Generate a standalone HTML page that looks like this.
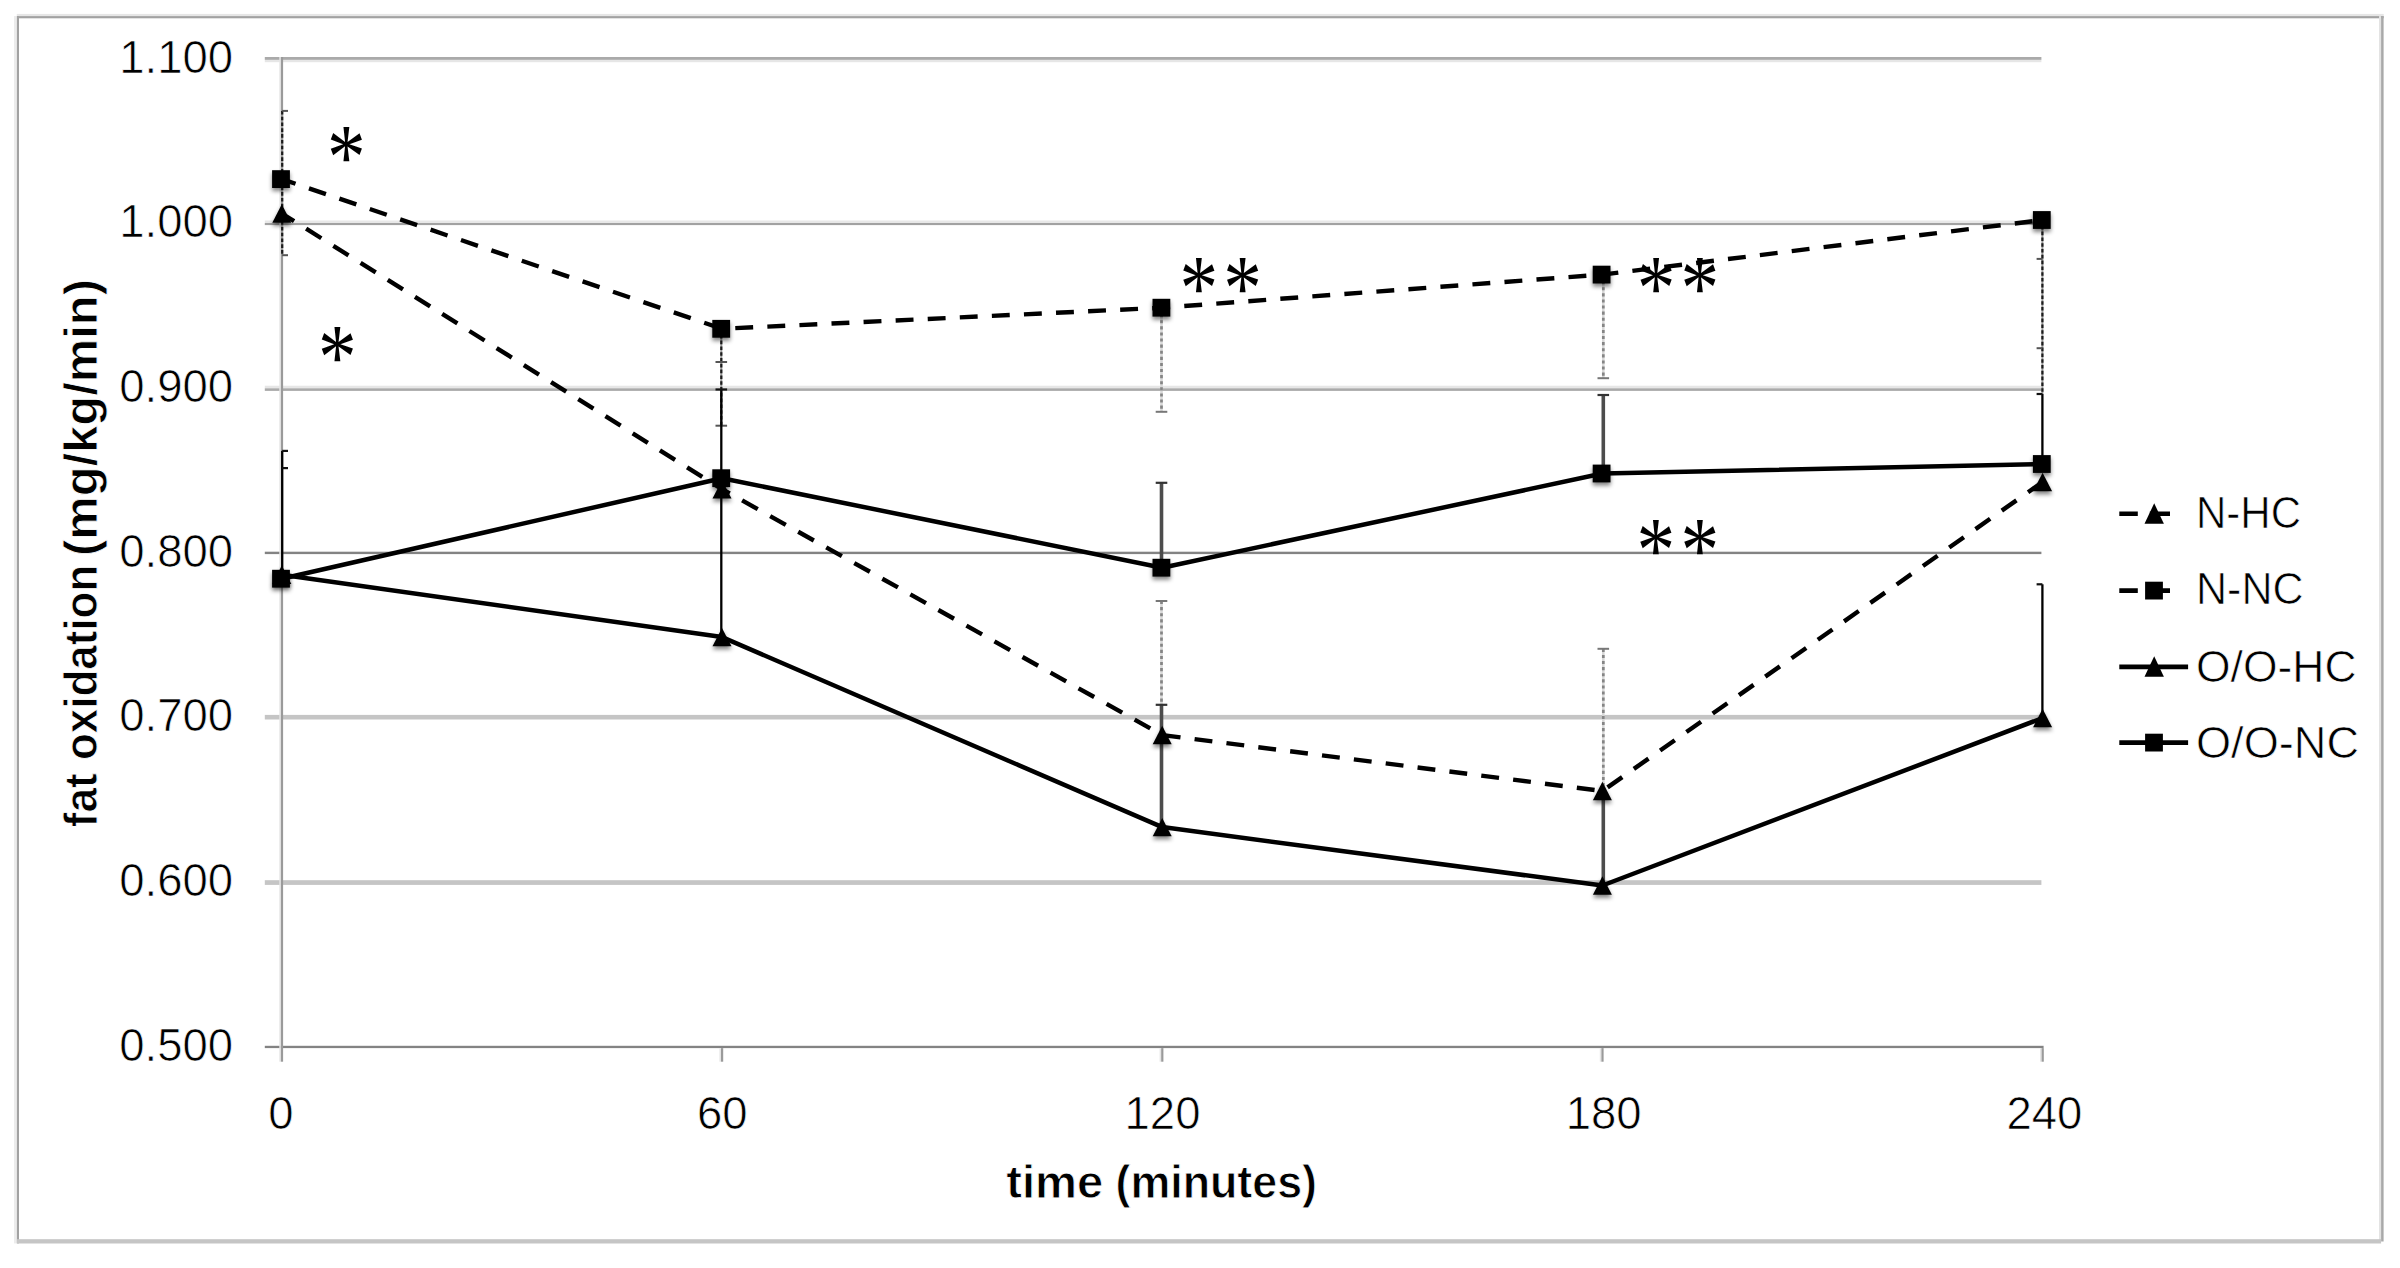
<!DOCTYPE html>
<html lang="en"><head><meta charset="utf-8"><title>fat oxidation over time</title>
<style>html,body{margin:0;padding:0;background:#fff}body{width:2400px;height:1268px;overflow:hidden}svg{display:block}
text{font-family:"Liberation Sans", Arial, sans-serif;fill:#000}
.tk{font-size:45.5px;stroke:#fff;stroke-width:0.7}
.ttl{font-size:45.6px;font-weight:bold;stroke:#fff;stroke-width:0.8}
.lg{font-size:44.0px;stroke:#fff;stroke-width:0.7}
.ast{font-family:"Liberation Serif","DejaVu Serif",serif;font-size:84px;fill:#000}
</style></head><body>
<svg width="2400" height="1268" viewBox="0 0 2400 1268">
<defs><filter id="sh" x="-60%" y="-60%" width="220%" height="220%"><feGaussianBlur in="SourceAlpha" stdDeviation="2.3"/><feOffset dx="0.3" dy="2.8" result="b"/><feComponentTransfer><feFuncA type="linear" slope="0.5"/></feComponentTransfer><feMerge><feMergeNode/><feMergeNode in="SourceGraphic"/></feMerge></filter></defs>
<rect x="0" y="0" width="2400" height="1268" fill="#fff"/>
<g id="frame">
<rect x="16.80" y="13.90" width="2366.90" height="2.20" fill="#e6e6e6"/>
<rect x="16.80" y="16.10" width="2366.90" height="2.20" fill="#a2a2a2"/>
<rect x="14.00" y="16.10" width="2.90" height="1227.30" fill="#ececec"/>
<rect x="16.90" y="16.10" width="2.10" height="1227.30" fill="#a2a2a2"/>
<rect x="2379.00" y="16.10" width="2.10" height="1224.90" fill="#e3e3e3"/>
<rect x="2381.10" y="16.10" width="2.50" height="1225.40" fill="#a9a9a9"/>
<rect x="16.90" y="1239.20" width="2364.20" height="4.30" fill="#c5c5c5"/>
</g>
<g id="grid">
<rect x="264.80" y="57.00" width="1776.60" height="2.90" fill="#aaaaaa"/>
<rect x="264.80" y="59.90" width="1776.60" height="2.30" fill="#e6e6e6"/>
<rect x="264.80" y="220.50" width="1776.60" height="2.50" fill="#e8e8e8"/>
<rect x="264.80" y="223.00" width="1776.60" height="2.10" fill="#a2a2a2"/>
<rect x="264.80" y="385.70" width="1776.60" height="2.60" fill="#e6e6e6"/>
<rect x="264.80" y="388.30" width="1776.60" height="2.60" fill="#aaaaaa"/>
<rect x="264.80" y="551.70" width="1776.60" height="2.40" fill="#838383"/>
<rect x="264.80" y="714.90" width="1776.60" height="4.60" fill="#c5c5c5"/>
<rect x="264.80" y="880.20" width="1776.60" height="4.70" fill="#c5c5c5"/>
</g>
<rect x="264.80" y="1045.80" width="1778.80" height="2.30" fill="#838383"/>
<g id="axes">
<rect x="279.30" y="57.00" width="1.60" height="1004.70" fill="#e6e6e6"/>
<rect x="280.90" y="57.00" width="2.20" height="1004.70" fill="#9a9a9a"/>
<rect x="719.40" y="1048.10" width="1.60" height="13.60" fill="#e6e6e6"/>
<rect x="721.00" y="1048.10" width="2.20" height="13.60" fill="#9a9a9a"/>
<rect x="1159.60" y="1048.10" width="1.60" height="13.60" fill="#e6e6e6"/>
<rect x="1161.20" y="1048.10" width="2.20" height="13.60" fill="#9a9a9a"/>
<rect x="1599.80" y="1048.10" width="1.60" height="13.60" fill="#e6e6e6"/>
<rect x="1601.40" y="1048.10" width="2.20" height="13.60" fill="#9a9a9a"/>
<rect x="2040.00" y="1048.10" width="1.60" height="13.60" fill="#e6e6e6"/>
<rect x="2041.60" y="1048.10" width="2.20" height="13.60" fill="#9a9a9a"/>
</g>
<g id="ylabels">
<text class="tk" x="233.1" y="72.7" text-anchor="end">1.100</text>
<text class="tk" x="233.1" y="237.4" text-anchor="end">1.000</text>
<text class="tk" x="233.1" y="402.0" text-anchor="end">0.900</text>
<text class="tk" x="233.1" y="566.7" text-anchor="end">0.800</text>
<text class="tk" x="233.1" y="731.4" text-anchor="end">0.700</text>
<text class="tk" x="233.1" y="896.0" text-anchor="end">0.600</text>
<text class="tk" x="233.1" y="1060.7" text-anchor="end">0.500</text>
</g><g id="xlabels">
<text class="tk" x="281.0" y="1128.8" text-anchor="middle">0</text>
<text class="tk" x="722.3" y="1128.8" text-anchor="middle">60</text>
<text class="tk" x="1162.5" y="1128.8" text-anchor="middle">120</text>
<text class="tk" x="1603.6" y="1128.8" text-anchor="middle">180</text>
<text class="tk" x="2044.4" y="1128.8" text-anchor="middle">240</text>
</g>
<text id="xtitle" class="ttl" y="1197.9"><tspan x="1006.3" textLength="97.0" lengthAdjust="spacingAndGlyphs">time</tspan><tspan> </tspan><tspan x="1115.5" textLength="201.5" lengthAdjust="spacingAndGlyphs">(minutes)</tspan></text>
<text id="ytitle" class="ttl" transform="translate(96.7 0) rotate(-90)" y="0"><tspan x="-827.3" textLength="54.0" lengthAdjust="spacingAndGlyphs">fat</tspan><tspan> </tspan><tspan x="-760.0" textLength="195.3" lengthAdjust="spacingAndGlyphs">oxidation</tspan><tspan> </tspan><tspan x="-556.0" textLength="277.0" lengthAdjust="spacingAndGlyphs">(mg/kg/min)</tspan></text>
<g id="errorbars">
<line x1="282.20" y1="110.90" x2="282.20" y2="255.20" stroke="#9a9a9a" stroke-width="2.0"/>
<line x1="282.20" y1="110.90" x2="282.20" y2="255.20" stroke="#1c1c1c" stroke-width="2.2" stroke-dasharray="3.6 2.2"/>
<line x1="282.20" y1="110.90" x2="288.00" y2="110.90" stroke="#555" stroke-width="2.0"/>
<line x1="282.20" y1="255.20" x2="288.00" y2="255.20" stroke="#555" stroke-width="2.0"/>
<line x1="282.20" y1="450.90" x2="282.20" y2="578.00" stroke="#000" stroke-width="2.3"/>
<line x1="282.20" y1="450.90" x2="288.00" y2="450.90" stroke="#111" stroke-width="2.2"/>
<line x1="282.20" y1="468.10" x2="288.00" y2="468.10" stroke="#111" stroke-width="2.2"/>
<line x1="721.30" y1="329.00" x2="721.30" y2="426.00" stroke="#9a9a9a" stroke-width="2.0"/>
<line x1="721.30" y1="329.00" x2="721.30" y2="426.00" stroke="#1c1c1c" stroke-width="2.2" stroke-dasharray="3.6 2.2"/>
<line x1="715.50" y1="362.00" x2="727.10" y2="362.00" stroke="#555" stroke-width="2.0"/>
<line x1="715.50" y1="425.70" x2="727.10" y2="425.70" stroke="#555" stroke-width="2.0"/>
<line x1="721.30" y1="389.50" x2="721.30" y2="637.00" stroke="#000" stroke-width="2.3"/>
<line x1="715.50" y1="389.50" x2="727.10" y2="389.50" stroke="#111" stroke-width="2.2"/>
<line x1="1161.50" y1="308.00" x2="1161.50" y2="411.80" stroke="#d8d8d8" stroke-width="2.6"/>
<line x1="1161.50" y1="308.00" x2="1161.50" y2="411.80" stroke="#858585" stroke-width="2.7" stroke-dasharray="3.1 3"/>
<line x1="1155.70" y1="411.80" x2="1167.30" y2="411.80" stroke="#777" stroke-width="2.0"/>
<line x1="1161.50" y1="482.80" x2="1161.50" y2="568.00" stroke="#4c4c4c" stroke-width="3.6"/>
<line x1="1155.70" y1="482.80" x2="1167.30" y2="482.80" stroke="#333" stroke-width="2.2"/>
<line x1="1161.50" y1="601.00" x2="1161.50" y2="735.00" stroke="#d8d8d8" stroke-width="2.6"/>
<line x1="1161.50" y1="601.00" x2="1161.50" y2="735.00" stroke="#858585" stroke-width="2.7" stroke-dasharray="3.1 3"/>
<line x1="1155.70" y1="601.00" x2="1167.30" y2="601.00" stroke="#777" stroke-width="2.0"/>
<line x1="1161.50" y1="704.80" x2="1161.50" y2="827.00" stroke="#4c4c4c" stroke-width="3.6"/>
<line x1="1155.70" y1="704.80" x2="1167.30" y2="704.80" stroke="#333" stroke-width="2.2"/>
<line x1="1603.30" y1="275.00" x2="1603.30" y2="378.20" stroke="#d8d8d8" stroke-width="2.6"/>
<line x1="1603.30" y1="275.00" x2="1603.30" y2="378.20" stroke="#858585" stroke-width="2.7" stroke-dasharray="3.1 3"/>
<line x1="1597.50" y1="378.20" x2="1609.10" y2="378.20" stroke="#777" stroke-width="2.0"/>
<line x1="1603.30" y1="395.00" x2="1603.30" y2="473.00" stroke="#4c4c4c" stroke-width="3.6"/>
<line x1="1597.50" y1="395.00" x2="1609.10" y2="395.00" stroke="#333" stroke-width="2.2"/>
<line x1="1603.30" y1="648.80" x2="1603.30" y2="791.00" stroke="#d8d8d8" stroke-width="2.6"/>
<line x1="1603.30" y1="648.80" x2="1603.30" y2="791.00" stroke="#858585" stroke-width="2.7" stroke-dasharray="3.1 3"/>
<line x1="1597.50" y1="648.80" x2="1609.10" y2="648.80" stroke="#777" stroke-width="2.0"/>
<line x1="1603.30" y1="795.00" x2="1603.30" y2="885.00" stroke="#4c4c4c" stroke-width="3.6"/>
<line x1="2042.40" y1="220.00" x2="2042.40" y2="394.00" stroke="#9a9a9a" stroke-width="2.0"/>
<line x1="2042.40" y1="220.00" x2="2042.40" y2="394.00" stroke="#1c1c1c" stroke-width="2.2" stroke-dasharray="3.6 2.2"/>
<line x1="2036.60" y1="258.90" x2="2042.40" y2="258.90" stroke="#555" stroke-width="2.0"/>
<line x1="2036.60" y1="348.20" x2="2042.40" y2="348.20" stroke="#555" stroke-width="2.0"/>
<line x1="2042.40" y1="394.00" x2="2042.40" y2="464.00" stroke="#000" stroke-width="2.3"/>
<line x1="2036.60" y1="394.00" x2="2042.40" y2="394.00" stroke="#111" stroke-width="2.2"/>
<line x1="2042.40" y1="584.30" x2="2042.40" y2="718.00" stroke="#000" stroke-width="2.3"/>
<line x1="2036.60" y1="584.30" x2="2042.40" y2="584.30" stroke="#111" stroke-width="2.2"/>
</g>
<g id="series">
<polyline points="281.8,213.5 722.0,489.2 1162.2,735.0 1602.4,791.0 2042.6,482.0" fill="none" stroke="#000" stroke-width="4.4" stroke-linejoin="round" stroke-dasharray="17.9 14.21" stroke-dashoffset="3.4"/>
<polyline points="281.8,179.1 722.0,328.8 1162.2,307.7 1602.4,274.6 2042.6,220.0" fill="none" stroke="#000" stroke-width="4.4" stroke-linejoin="round" stroke-dasharray="17.9 14.21" stroke-dashoffset="3.4"/>
<polyline points="281.8,574.8 722.0,637.1 1162.2,827.1 1602.4,885.5 2042.6,718.0" fill="none" stroke="#000" stroke-width="4.5" stroke-linejoin="round"/>
<polyline points="281.8,578.7 722.0,478.2 1162.2,567.7 1602.4,473.5 2042.6,464.0" fill="none" stroke="#000" stroke-width="4.5" stroke-linejoin="round"/>
<polygon points="281.80,204.30 291.30,222.70 272.30,222.70" fill="#000" filter="url(#sh)"/>
<polygon points="722.00,480.00 731.50,498.40 712.50,498.40" fill="#000" filter="url(#sh)"/>
<polygon points="1162.20,725.80 1171.70,744.20 1152.70,744.20" fill="#000" filter="url(#sh)"/>
<polygon points="1602.40,781.80 1611.90,800.20 1592.90,800.20" fill="#000" filter="url(#sh)"/>
<polygon points="2042.60,472.80 2052.10,491.20 2033.10,491.20" fill="#000" filter="url(#sh)"/>
<rect x="272.10" y="170.20" width="17.8" height="17.8" fill="#000" filter="url(#sh)"/>
<rect x="712.30" y="319.90" width="17.8" height="17.8" fill="#000" filter="url(#sh)"/>
<rect x="1152.50" y="298.80" width="17.8" height="17.8" fill="#000" filter="url(#sh)"/>
<rect x="1592.70" y="265.70" width="17.8" height="17.8" fill="#000" filter="url(#sh)"/>
<rect x="2032.90" y="211.10" width="17.8" height="17.8" fill="#000" filter="url(#sh)"/>
<polygon points="281.80,565.60 291.30,584.00 272.30,584.00" fill="#000" filter="url(#sh)"/>
<polygon points="722.00,627.90 731.50,646.30 712.50,646.30" fill="#000" filter="url(#sh)"/>
<polygon points="1162.20,817.90 1171.70,836.30 1152.70,836.30" fill="#000" filter="url(#sh)"/>
<polygon points="1602.40,876.30 1611.90,894.70 1592.90,894.70" fill="#000" filter="url(#sh)"/>
<polygon points="2042.60,708.80 2052.10,727.20 2033.10,727.20" fill="#000" filter="url(#sh)"/>
<rect x="272.10" y="569.80" width="17.8" height="17.8" fill="#000" filter="url(#sh)"/>
<rect x="712.30" y="469.30" width="17.8" height="17.8" fill="#000" filter="url(#sh)"/>
<rect x="1152.50" y="558.80" width="17.8" height="17.8" fill="#000" filter="url(#sh)"/>
<rect x="1592.70" y="464.60" width="17.8" height="17.8" fill="#000" filter="url(#sh)"/>
<rect x="2032.90" y="455.10" width="17.8" height="17.8" fill="#000" filter="url(#sh)"/>
</g>
<g id="stars">
<text class="ast" transform="translate(346.4 143.5) scale(0.92 1.1)" x="0" y="40.5" text-anchor="middle">*</text>
<text class="ast" transform="translate(337.2 343.5) scale(0.92 1.1)" x="0" y="40.5" text-anchor="middle">*</text>
<text class="ast" transform="translate(1198.9 274.7) scale(0.92 1.1)" x="0" y="40.5" text-anchor="middle">*</text>
<text class="ast" transform="translate(1242.5 274.7) scale(0.92 1.1)" x="0" y="40.5" text-anchor="middle">*</text>
<text class="ast" transform="translate(1656.0 274.7) scale(0.92 1.1)" x="0" y="40.5" text-anchor="middle">*</text>
<text class="ast" transform="translate(1699.8 274.7) scale(0.92 1.1)" x="0" y="40.5" text-anchor="middle">*</text>
<text class="ast" transform="translate(1655.9 536.4) scale(0.92 1.1)" x="0" y="40.5" text-anchor="middle">*</text>
<text class="ast" transform="translate(1699.8 536.4) scale(0.92 1.1)" x="0" y="40.5" text-anchor="middle">*</text>
</g>
<g id="legend">
<line x1="2119.3" y1="513.8" x2="2170" y2="513.8" stroke="#000" stroke-width="4.6" stroke-dasharray="18.5 12 30"/>
<polygon points="2154.20,503.30 2163.90,523.70 2144.50,523.70" fill="#000"/>
<text class="lg" x="2196" y="528.4" textLength="105.0" lengthAdjust="spacingAndGlyphs">N-HC</text>
<line x1="2119.3" y1="590.6" x2="2170" y2="590.6" stroke="#000" stroke-width="4.6" stroke-dasharray="18.5 12 30"/>
<rect x="2145.10" y="581.70" width="17.8" height="17.8" fill="#000"/>
<text class="lg" x="2196" y="604.4" textLength="107.5" lengthAdjust="spacingAndGlyphs">N-NC</text>
<line x1="2119.3" y1="666.8" x2="2188.1" y2="666.8" stroke="#000" stroke-width="4.7"/>
<polygon points="2154.20,656.30 2163.90,676.70 2144.50,676.70" fill="#000"/>
<text class="lg" x="2196" y="682.0" textLength="160.5" lengthAdjust="spacingAndGlyphs">O/O-HC</text>
<line x1="2119.3" y1="742.6" x2="2188.1" y2="742.6" stroke="#000" stroke-width="4.7"/>
<rect x="2145.10" y="733.70" width="17.8" height="17.8" fill="#000"/>
<text class="lg" x="2196" y="758.0" textLength="163.0" lengthAdjust="spacingAndGlyphs">O/O-NC</text>
</g>
</svg></body></html>
